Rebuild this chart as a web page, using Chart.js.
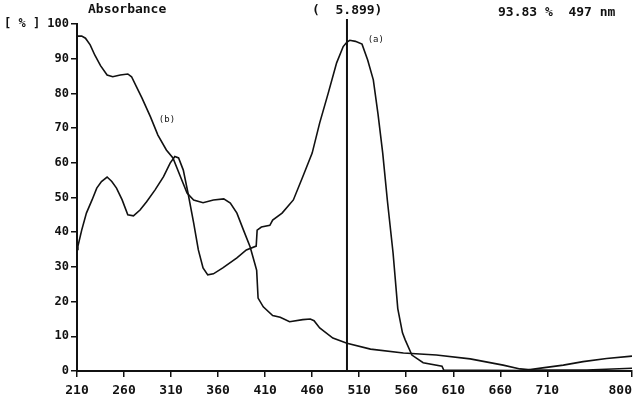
<!DOCTYPE html>
<html>
<head>
<meta charset="utf-8">
<script src="https://cdn.jsdelivr.net/npm/chart.js@4/dist/chart.umd.min.js"></script>
<style>
  body { margin: 0; background: #fff; }
  #wrap { width: 642px; height: 403px; position: relative; }
</style>
</head>
<body>
<div id="wrap"><canvas id="spectrum"></canvas></div>
<script>
// Curve (a) - wavelength (nm) and absorbance (%)
const waveA = [210, 211, 215, 220, 226, 231, 236, 242, 247, 252, 258, 264, 270, 277, 284, 293, 302, 309, 314, 318,
  323, 328, 334, 339, 344, 349, 355, 365, 380, 390, 400.5, 401.5, 406, 415, 418, 428, 440, 450, 460, 468,
  477, 486, 493, 497, 500, 506, 513, 519, 525, 530, 535, 540, 546, 551, 556, 559, 566, 578, 598, 600,
  640, 684, 705, 727, 748, 773, 800];
const absA = [35, 36, 40.6, 45.5, 49.3, 52.7, 54.6, 55.9, 54.6, 52.7, 49.3, 45, 44.7, 46.4, 48.8, 52.2, 56, 59.9, 61.8, 61.4,
  57.9, 51.3, 42.7, 34.9, 29.7, 27.7, 28, 29.7, 32.6, 34.9, 36, 40.6, 41.5, 42, 43.5, 45.5, 49.3, 56, 62.8, 71.5,
  80, 88.8, 93.5, 94.8, 95.3, 95, 94.2, 89.6, 83.9, 74, 62.8, 49, 34, 18, 11, 8.9, 4.6, 2.4, 1.4, 0.2,
  0.2, 0.1, 0.9, 1.7, 2.7, 3.6, 4.3];

// Curve (b)
const waveB = [210, 215, 219, 224, 229, 235, 242, 248, 256, 264, 268, 273, 279, 288, 296, 305, 312, 320, 327, 334,
  344, 355, 366, 373, 380, 387, 394, 399, 401, 402.5, 408, 418, 426, 436, 450, 458, 462, 468, 482, 497,
  522, 557, 592, 628, 663, 681, 695, 716, 752, 800];
const absB = [96.5, 96.5, 95.9, 94, 91, 88, 85.3, 84.8, 85.3, 85.6, 84.8, 82, 78.7, 73.3, 68, 63.7, 61.4, 56, 51.3, 49.3,
  48.5, 49.3, 49.6, 48.4, 45.5, 40.6, 35.8, 31, 29, 21, 18.5, 16, 15.5, 14.2, 14.8, 15, 14.5, 12.4, 9.5, 8,
  6.3, 5.2, 4.6, 3.5, 1.7, 0.6, 0.3, 0.3, 0.3, 0.8];

// Axis ticks
const xTicks = [210, 260, 310, 360, 410, 460, 510, 560, 610, 660, 710, 800];
const yTicks = [0, 10, 20, 30, 40, 50, 60, 70, 80, 90, 100];

// Cursor readout
const cursorWave = 497;
const cursorAbs = "93.83";
const cursorValue = "5.899";

const ink = "#111";
const monoFont = "'DejaVu Sans Mono', 'Liberation Mono', monospace";

function toPoints(xs, ys) {
  return xs.map((x, i) => ({ x: x, y: ys[i] }));
}

// Draws the cursor line and the text annotations
const overlayPlugin = {
  id: "overlay",
  afterDatasetsDraw(chart) {
    const ctx = chart.ctx;
    const xs = chart.scales.x;
    const ys = chart.scales.y;
    const area = chart.chartArea;
    ctx.save();

    // cursor line
    const cx = xs.getPixelForValue(cursorWave);
    ctx.strokeStyle = ink;
    ctx.lineWidth = 2;
    ctx.beginPath();
    ctx.moveTo(cx, 19);
    ctx.lineTo(cx, area.bottom);
    ctx.stroke();

    ctx.fillStyle = ink;
    ctx.textBaseline = "middle";
    ctx.font = "bold 13px " + monoFont;
    ctx.textAlign = "left";
    ctx.fillText("Absorbance", 88, 10);
    ctx.fillText("(  " + cursorValue + ")", 312, 11);
    ctx.fillText(cursorAbs + " %  " + cursorWave + " nm", 498, 13);

    // curve labels
    ctx.font = "9px " + monoFont;
    ctx.fillText("(a)", xs.getPixelForValue(519), ys.getPixelForValue(95.5));
    ctx.fillText("(b)", xs.getPixelForValue(297), ys.getPixelForValue(72.5));
    ctx.restore();
  },
};

const lineStyle = {
  borderColor: ink,
  borderWidth: 1.6,
  pointRadius: 0,
  tension: 0,
  fill: false,
};

new Chart(document.getElementById("spectrum").getContext("2d"), {
  type: "line",
  data: {
    datasets: [
      Object.assign({ label: "(a)", data: toPoints(waveA, absA) }, lineStyle),
      Object.assign({ label: "(b)", data: toPoints(waveB, absB) }, lineStyle),
    ],
  },
  options: {
    responsive: true,
    maintainAspectRatio: false,
    animation: false,
    layout: { padding: { top: 24, right: 10, left: 0, bottom: 0 } },
    plugins: {
      legend: { display: false },
      tooltip: { enabled: false },
    },
    scales: {
      x: {
        type: "linear",
        min: 210,
        max: 800,
        afterBuildTicks: (scale) => {
          scale.ticks = xTicks.map((v) => ({ value: v }));
        },
        afterFit: (scale) => {
          scale.height = 32;
          scale.paddingLeft = 0;
          scale.paddingRight = 0;
        },
        grid: { drawOnChartArea: false, drawTicks: true, tickLength: 6, color: ink, lineWidth: 1.5 },
        border: { color: ink, width: 2 },
        ticks: {
          color: ink,
          padding: 6,
          maxRotation: 0,
          autoSkip: false,
          font: { family: monoFont, size: 13, weight: "bold" },
          callback: (v) => (v === 800 ? "800   " : String(v)),
        },
      },
      y: {
        type: "linear",
        min: 0,
        max: 100,
        afterBuildTicks: (scale) => {
          scale.ticks = yTicks.map((v) => ({ value: v }));
        },
        afterFit: (scale) => {
          scale.width = 77;
          scale.paddingTop = 0;
          scale.paddingBottom = 0;
        },
        grid: { drawOnChartArea: false, drawTicks: true, tickLength: 6, color: ink, lineWidth: 1.5 },
        border: { color: ink, width: 2 },
        ticks: {
          color: ink,
          padding: 2,
          autoSkip: false,
          font: { family: monoFont, size: 12, weight: "bold" },
          callback: (v) => (v === 100 ? "[ % ] 100" : String(v)),
        },
      },
    },
  },
  plugins: [overlayPlugin],
});
</script>
</body>
</html>
